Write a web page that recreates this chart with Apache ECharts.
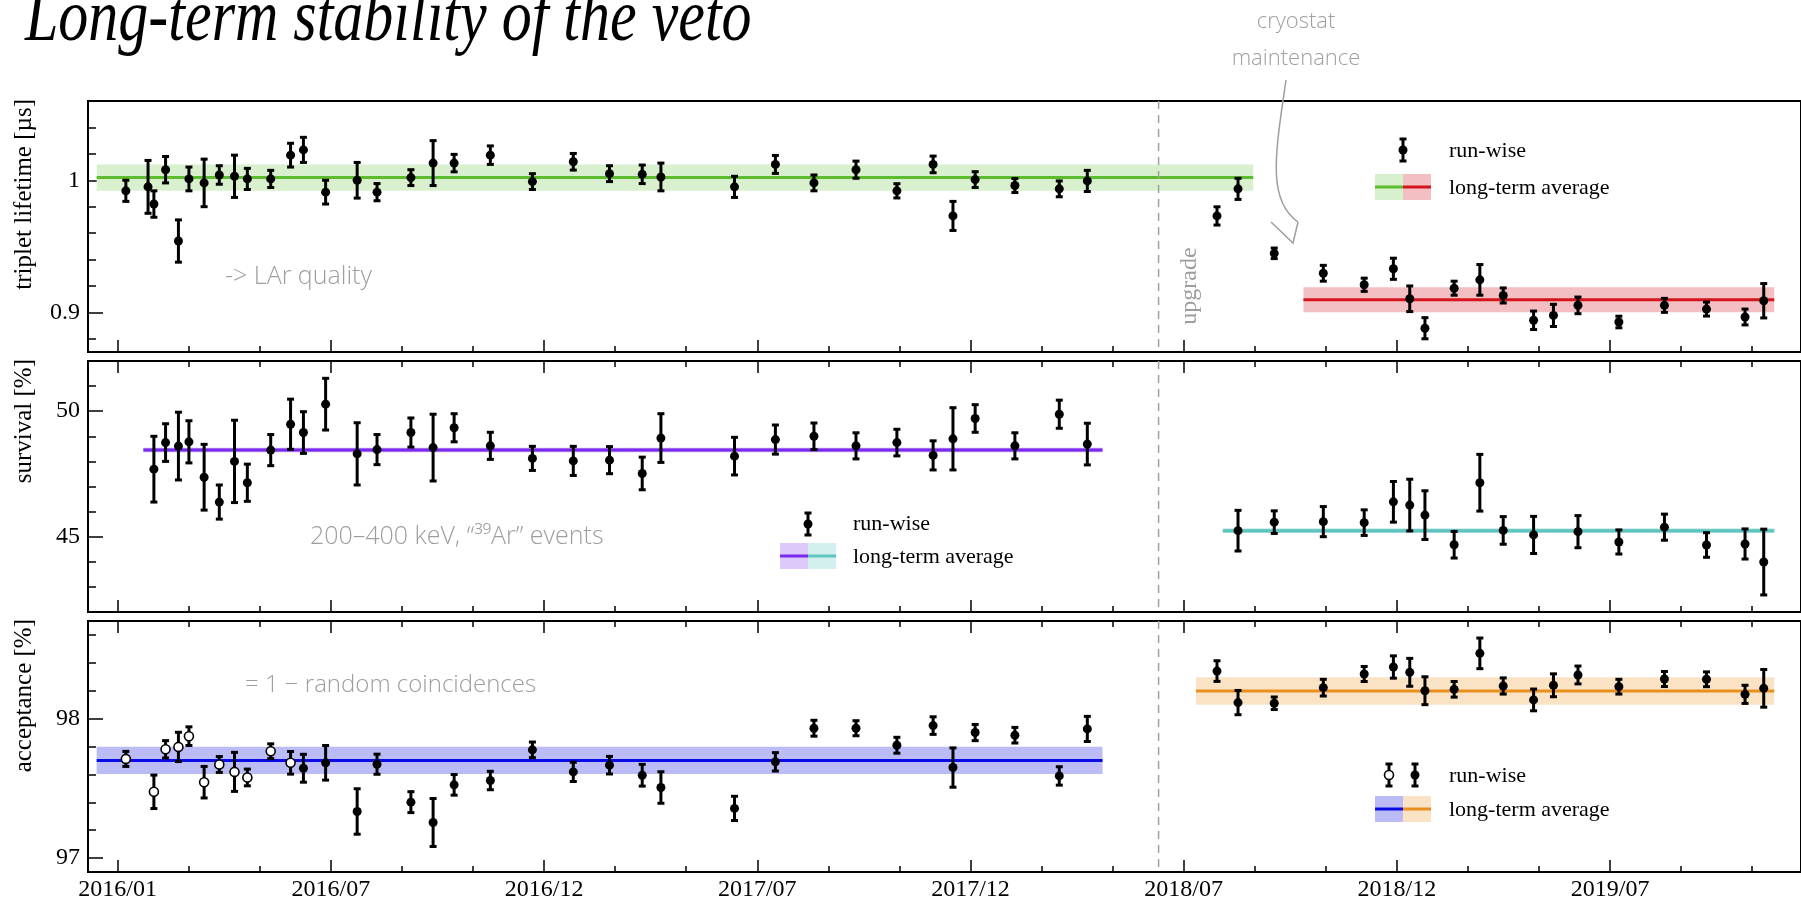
<!DOCTYPE html>
<html>
<head>
<meta charset="utf-8">
<title>Long-term stability of the veto</title>
<script src="https://cdn.jsdelivr.net/npm/echarts@6.0.0/dist/echarts.min.js"></script>
<style>
  html, body { margin: 0; padding: 0; background: #fff; }
  #chart { width: 1801px; height: 902px; }
</style>
</head>
<body>
<div id="chart"></div>
<script>
// x values are days since 2016-01-01; one labelled tick every half year
const HALF_YEAR = 182.5;
const xTickLabels = ['2016/01', '2016/07', '2016/12', '2017/07', '2017/12', '2018/07', '2018/12', '2019/07'];
const upgradeDay = 891;

// triplet lifetime [µs]
const lifeDays = [7, 26, 31, 41, 52, 61, 74, 87, 100, 111, 131, 148, 159, 178, 205, 222, 251, 270, 288, 319, 355, 390, 421, 449, 465, 528, 563, 596, 632, 667, 698, 715, 734, 768, 806, 830, 941, 959, 990, 1032, 1067, 1092, 1106, 1119, 1144, 1166, 1186, 1212, 1229, 1250, 1285, 1324, 1360, 1393, 1409];
const lifeValues = [0.992, 0.995, 0.982, 1.008, 0.954, 1.001, 0.998, 1.004, 1.003, 1.001, 1.001, 1.019, 1.023, 0.991, 1.000, 0.991, 1.002, 1.013, 1.013, 1.019, 0.999, 1.014, 1.005, 1.0045, 1.0025, 0.995, 1.012, 0.998, 1.008, 0.992, 1.012, 0.973, 1.0005, 0.996, 0.9935, 0.9995, 0.973, 0.9935, 0.9447, 0.9296, 0.9209, 0.933, 0.9103, 0.888, 0.9183, 0.9246, 0.9128, 0.894, 0.8977, 0.9053, 0.8927, 0.9053, 0.9025, 0.8965, 0.9088];
const lifeErrors = [0.008, 0.020, 0.010, 0.010, 0.016, 0.009, 0.018, 0.007, 0.016, 0.008, 0.0065, 0.009, 0.0095, 0.009, 0.0135, 0.0065, 0.006, 0.017, 0.0066, 0.007, 0.006, 0.0063, 0.006, 0.007, 0.0105, 0.008, 0.0068, 0.006, 0.0065, 0.0054, 0.0063, 0.011, 0.006, 0.0053, 0.006, 0.008, 0.0069, 0.008, 0.004, 0.006, 0.005, 0.008, 0.0097, 0.008, 0.0053, 0.0116, 0.0057, 0.007, 0.0084, 0.0063, 0.0044, 0.0053, 0.0053, 0.006, 0.013];
// [from day, to day, mean, error]
const lifeAverages = [[-18, 972, 1.002, 0.010], [1015, 1418, 0.9095, 0.0095]];
const lifeTicks = [0.9, 1];
const lifeMinorTicks = [0.88, 0.92, 0.94, 0.96, 0.98, 1.02, 1.04];

// survival [%]
const survDays = [31, 41, 52, 61, 74, 87, 100, 111, 131, 148, 159, 178, 205, 222, 251, 270, 288, 319, 355, 390, 421, 449, 465, 528, 563, 596, 632, 667, 698, 715, 734, 768, 806, 830, 959, 990, 1032, 1067, 1092, 1106, 1119, 1144, 1166, 1186, 1212, 1250, 1285, 1324, 1360, 1393, 1409];
const survValues = [47.69, 48.75, 48.61, 48.78, 47.37, 46.38, 48.0, 47.15, 48.45, 49.48, 49.15, 50.28, 48.3, 48.47, 49.15, 48.55, 49.34, 48.62, 48.12, 48.02, 48.05, 47.52, 48.93, 48.21, 48.87, 49.0, 48.62, 48.75, 48.24, 48.9, 49.71, 48.62, 49.88, 48.69, 45.24, 45.58, 45.6, 45.56, 46.39, 46.26, 45.86, 44.68, 47.15, 45.25, 45.07, 45.2, 44.79, 45.38, 44.67, 44.71, 43.99];
const survErrors = [1.31, 0.75, 1.35, 0.84, 1.31, 0.68, 1.64, 0.74, 0.62, 1.0, 0.83, 1.03, 1.24, 0.6, 0.58, 1.33, 0.56, 0.54, 0.48, 0.58, 0.54, 0.65, 0.97, 0.75, 0.58, 0.53, 0.52, 0.53, 0.58, 1.24, 0.55, 0.52, 0.56, 0.83, 0.81, 0.45, 0.6, 0.51, 0.81, 1.03, 0.97, 0.53, 1.13, 0.55, 0.74, 0.64, 0.48, 0.52, 0.49, 0.6, 1.31];
const survAverages = [[22, 843, 48.45, 0.09], [946, 1418, 45.24, 0.09]];
const survTicks = [45, 50];
const survMinorTicks = [43, 44, 46, 47, 48, 49, 51];

// acceptance [%] (open markers for the first runs)
const accOpenDays = [7, 31, 41, 52, 61, 74, 87, 100, 111, 131, 148];
const accOpenValues = [97.711, 97.475, 97.78, 97.797, 97.874, 97.544, 97.671, 97.618, 97.578, 97.766, 97.683];
const accOpenErrors = [0.054, 0.12, 0.062, 0.105, 0.067, 0.113, 0.057, 0.14, 0.06, 0.053, 0.081];
const accDays = [159, 178, 205, 222, 251, 270, 288, 319, 355, 390, 421, 449, 465, 528, 563, 596, 632, 667, 698, 715, 734, 768, 806, 830, 941, 959, 990, 1032, 1067, 1092, 1106, 1119, 1144, 1166, 1186, 1212, 1229, 1250, 1285, 1324, 1360, 1393, 1409];
const accValues = [97.644, 97.683, 97.334, 97.673, 97.401, 97.255, 97.525, 97.556, 97.776, 97.618, 97.666, 97.594, 97.506, 97.356, 97.69, 97.931, 97.931, 97.809, 97.95, 97.649, 97.9, 97.881, 97.589, 97.926, 98.341, 98.115, 98.11, 98.222, 98.32, 98.37, 98.332, 98.2, 98.21, 98.468, 98.234, 98.134, 98.239, 98.313, 98.229, 98.284, 98.282, 98.174, 98.217];
const accErrors = [0.10, 0.124, 0.163, 0.072, 0.075, 0.172, 0.074, 0.066, 0.056, 0.069, 0.063, 0.078, 0.113, 0.087, 0.066, 0.057, 0.054, 0.057, 0.063, 0.141, 0.058, 0.056, 0.066, 0.09, 0.074, 0.087, 0.045, 0.06, 0.054, 0.08, 0.10, 0.10, 0.056, 0.11, 0.058, 0.078, 0.082, 0.064, 0.053, 0.054, 0.053, 0.065, 0.135];
const accAverages = [[-18, 843, 97.70, 0.098], [923, 1418, 98.198, 0.099]];
const accTicks = [97, 98];
const accMinorTicks = [97.2, 97.4, 97.6, 97.8, 98.2, 98.4, 98.6];

const SERIF = "'Liberation Serif', 'Times New Roman', serif";
const HAND = "'Open Sans', 'DejaVu Sans', sans-serif";
const GREY = '#9e9e9e';

const GRID_LEFT = 88;
const GRID_TOP = [101, 361, 621];
const GRID_H = 251;
const X_MIN = -25.4, X_MAX = 1440.9;

const majorX = xTickLabels.map((_, i) => i * HALF_YEAR);
const minorX = [];
for (let i = 1; i < 24; i++) if (i % 3) minorX.push(i * HALF_YEAR / 3);

const zip = (d, v, e) => d.map((x, i) => [x, v[i], e[i]]);

const panels = [
  {
    name: 'triplet lifetime [µs]', min: 0.87, max: 1.06, ticks: lifeTicks, minor: lifeMinorTicks,
    runs: zip(lifeDays, lifeValues, lifeErrors), open: [], avg: lifeAverages,
    lines: ['#5dbb2f', '#d3141c'], bands: ['#d8f0cd', '#f4bfc2'], swatch: ['#d8f0cd', '#f4bfc2']
  },
  {
    name: 'survival [%]', min: 42, max: 52, ticks: survTicks, minor: survMinorTicks,
    runs: zip(survDays, survValues, survErrors), open: [], avg: survAverages,
    lines: ['#7b29ee', '#5dc4c0'], bands: ['#c9a9f7', '#aadfdc'], swatch: ['#ddc9fa', '#d3efee']
  },
  {
    name: 'acceptance [%]', min: 96.9, max: 98.7, ticks: accTicks, minor: accMinorTicks,
    runs: zip(accDays, accValues, accErrors), open: zip(accOpenDays, accOpenValues, accOpenErrors), avg: accAverages,
    lines: ['#0b0be6', '#e8901e'], bands: ['#bbbbf6', '#fae2c4'], swatch: ['#bbbbf6', '#fae2c4']
  }
];

function xAxis(g, position, values, len, labels) {
  return {
    type: 'value', gridIndex: g, position, min: X_MIN, max: X_MAX,
    axisLine: { show: false, onZero: false }, splitLine: { show: false },
    axisTick: { inside: true, length: len, customValues: values, lineStyle: { color: '#000', width: 1.5 } },
    axisLabel: labels ? {
      customValues: majorX, margin: 6, color: '#000', fontFamily: SERIF, fontSize: 24,
      formatter: (v) => xTickLabels[Math.round(v / HALF_YEAR)]
    } : { show: false }
  };
}

function yAxis(g, p, values, len, labels) {
  return {
    type: 'value', gridIndex: g, position: 'left', min: p.min, max: p.max,
    axisLine: { show: false, onZero: false }, splitLine: { show: false },
    axisTick: { inside: true, length: len, customValues: values, lineStyle: { color: '#000', width: 1.5 } },
    axisLabel: labels ? { customValues: values, margin: 8, color: '#000', fontFamily: SERIF, fontSize: 24 } : { show: false }
  };
}

/** Error bar with caps and a round marker. */
function errorBarItem(hollow) {
  return (params, api) => {
    const x = api.value(0), y = api.value(1), e = api.value(2);
    const c = api.coord([x, y]);
    const hi = api.coord([x, y + e])[1];
    const lo = api.coord([x, y - e])[1];
    const cap = 3.5;
    const s = { stroke: '#000', lineWidth: 3 };
    return {
      type: 'group',
      children: [
        { type: 'line', shape: { x1: c[0], y1: hi, x2: c[0], y2: lo }, style: s },
        { type: 'line', shape: { x1: c[0] - cap, y1: hi, x2: c[0] + cap, y2: hi }, style: s },
        { type: 'line', shape: { x1: c[0] - cap, y1: lo, x2: c[0] + cap, y2: lo }, style: s },
        { type: 'circle', shape: { cx: c[0], cy: c[1], r: 4.5 },
          style: { fill: hollow ? '#fff' : '#000', stroke: '#000', lineWidth: hollow ? 1.6 : 0 } }
      ]
    };
  };
}

const grids = [], xAxes = [], yAxes = [], series = [];

panels.forEach((p, g) => {
  grids.push({ left: GRID_LEFT, right: -20, top: GRID_TOP[g], height: GRID_H, show: true, borderColor: '#000', borderWidth: 2, backgroundColor: 'transparent' });

  const xi = xAxes.length;
  xAxes.push(xAxis(g, 'bottom', majorX, 12, g === 2));
  xAxes.push(xAxis(g, 'bottom', minorX, 6, false));
  if (g > 0) {
    xAxes.push(xAxis(g, 'top', majorX, 12, false));
    xAxes.push(xAxis(g, 'top', minorX, 6, false));
  }
  const yi = yAxes.length;
  yAxes.push(yAxis(g, p, p.ticks, 15, true));
  yAxes.push(yAxis(g, p, p.minor, 8, false));

  // long-term averages with their band
  series.push({
    type: 'custom', xAxisIndex: xi, yAxisIndex: yi, silent: true, z: 1,
    encode: { x: [0, 1], y: 2 },
    data: p.avg,
    renderItem: (params, api) => {
      const i = params.dataIndex;
      const x0 = api.value(0), x1 = api.value(1), m = api.value(2), e = api.value(3);
      const tl = api.coord([x0, m + e]), br = api.coord([x1, m - e]);
      const l = api.coord([x0, m]), r = api.coord([x1, m]);
      return {
        type: 'group',
        children: [
          { type: 'rect', shape: { x: tl[0], y: tl[1], width: br[0] - tl[0], height: br[1] - tl[1] }, style: { fill: p.bands[i] } },
          { type: 'line', shape: { x1: l[0], y1: l[1], x2: r[0], y2: r[1] }, style: { stroke: p.lines[i], lineWidth: 3 } }
        ]
      };
    }
  });

  // detector upgrade
  series.push({
    type: 'custom', xAxisIndex: xi, yAxisIndex: yi, silent: true, z: 2,
    data: [[upgradeDay, p.min]],
    renderItem: (params, api) => {
      const x = api.coord([api.value(0), api.value(1)])[0];
      const cs = params.coordSys;
      return { type: 'line', shape: { x1: x, y1: cs.y, x2: x, y2: cs.y + cs.height },
        style: { stroke: '#a0a0a0', lineWidth: 1.5, lineDash: [8, 6] } };
    }
  });

  if (p.open.length) {
    series.push({ type: 'custom', xAxisIndex: xi, yAxisIndex: yi, z: 3, data: p.open, encode: { x: 0, y: 1 }, renderItem: errorBarItem(true) });
  }
  series.push({ type: 'custom', xAxisIndex: xi, yAxisIndex: yi, z: 3, data: p.runs, encode: { x: 0, y: 1 }, renderItem: errorBarItem(false) });
});

// legend pieces and annotations
function errIcon(x, y, hollow) {
  const h = 11, cap = 3.5, s = { stroke: '#000', lineWidth: 3 };
  return [
    { type: 'line', shape: { x1: x, y1: y - h, x2: x, y2: y + h }, style: s },
    { type: 'line', shape: { x1: x - cap, y1: y - h, x2: x + cap, y2: y - h }, style: s },
    { type: 'line', shape: { x1: x - cap, y1: y + h, x2: x + cap, y2: y + h }, style: s },
    { type: 'circle', shape: { cx: x, cy: y, r: 4.5 }, style: { fill: hollow ? '#fff' : '#000', stroke: '#000', lineWidth: hollow ? 1.6 : 0 } }
  ];
}
function swatch(x, y, p) {
  return [
    { type: 'rect', shape: { x, y: y - 13, width: 28, height: 26 }, style: { fill: p.swatch[0] } },
    { type: 'rect', shape: { x: x + 28, y: y - 13, width: 28, height: 26 }, style: { fill: p.swatch[1] } },
    { type: 'line', shape: { x1: x, y1: y, x2: x + 28, y2: y }, style: { stroke: p.lines[0], lineWidth: 3 } },
    { type: 'line', shape: { x1: x + 28, y1: y, x2: x + 56, y2: y }, style: { stroke: p.lines[1], lineWidth: 3 } }
  ];
}
function label(text, x, y, opts = {}) {
  return {
    type: 'text', x, y, rotation: opts.rotation || 0, scaleY: opts.scaleY || 1,
    style: {
      text, fill: opts.color || '#000', fontFamily: opts.font || SERIF, fontSize: opts.size || 22,
      fontStyle: opts.italic ? 'italic' : 'normal', fontWeight: opts.weight || 'normal',
      align: opts.align || 'left', verticalAlign: 'middle'
    }
  };
}

const graphics = [
  label('Long-term stability of the veto', 25, 20, { size: 60, italic: true, scaleY: 1.25 }),
  label('upgrade', 1190, 286, { rotation: Math.PI / 2, align: 'center', color: GREY, size: 24 }),

  label('-> LAr quality', 225, 277, { font: HAND, color: GREY, size: 25, weight: 300 }),
  label('200–400 keV, “³⁹Ar” events', 310, 537, { font: HAND, color: GREY, size: 25, weight: 300 }),
  label('= 1 − random coincidences', 245, 685, { font: HAND, color: GREY, size: 24, weight: 300 }),
  label('cryostat', 1296, 22, { font: HAND, color: GREY, size: 22, weight: 300, align: 'center' }),
  label('maintenance', 1296, 59, { font: HAND, color: GREY, size: 22, weight: 300, align: 'center' }),
  { type: 'bezierCurve', shape: { x1: 1286, y1: 80, cpx1: 1276, cpy1: 150, cpx2: 1266, cpy2: 200, x2: 1298, y2: 222 }, style: { stroke: GREY, lineWidth: 1.5, fill: null } },
  { type: 'polyline', shape: { points: [[1298, 222], [1293, 243], [1271, 222]] }, style: { stroke: GREY, lineWidth: 1.5, fill: null } },

  ...errIcon(1403, 150),
  label('run-wise', 1449, 151),
  ...swatch(1375, 187, panels[0]),
  label('long-term average', 1449, 188),

  ...errIcon(808, 524),
  label('run-wise', 853, 524),
  ...swatch(780, 556, panels[1]),
  label('long-term average', 853, 557),

  ...errIcon(1389, 775, true),
  ...errIcon(1415, 775),
  label('run-wise', 1449, 776),
  ...swatch(1375, 809, panels[2]),
  label('long-term average', 1449, 810)
];

panels.forEach((p, g) => {
  graphics.push(label(p.name, 24, GRID_TOP[g] - 2, { rotation: Math.PI / 2, align: 'right', size: 25 }));
});

const chart = echarts.init(document.getElementById('chart'), null, { renderer: 'canvas' });
chart.setOption({
  animation: false,
  backgroundColor: '#fff',
  grid: grids,
  xAxis: xAxes,
  yAxis: yAxes,
  series,
  graphic: { elements: graphics.map(el => Object.assign({ z: 100 }, el)) }
});
</script>
</body>
</html>
